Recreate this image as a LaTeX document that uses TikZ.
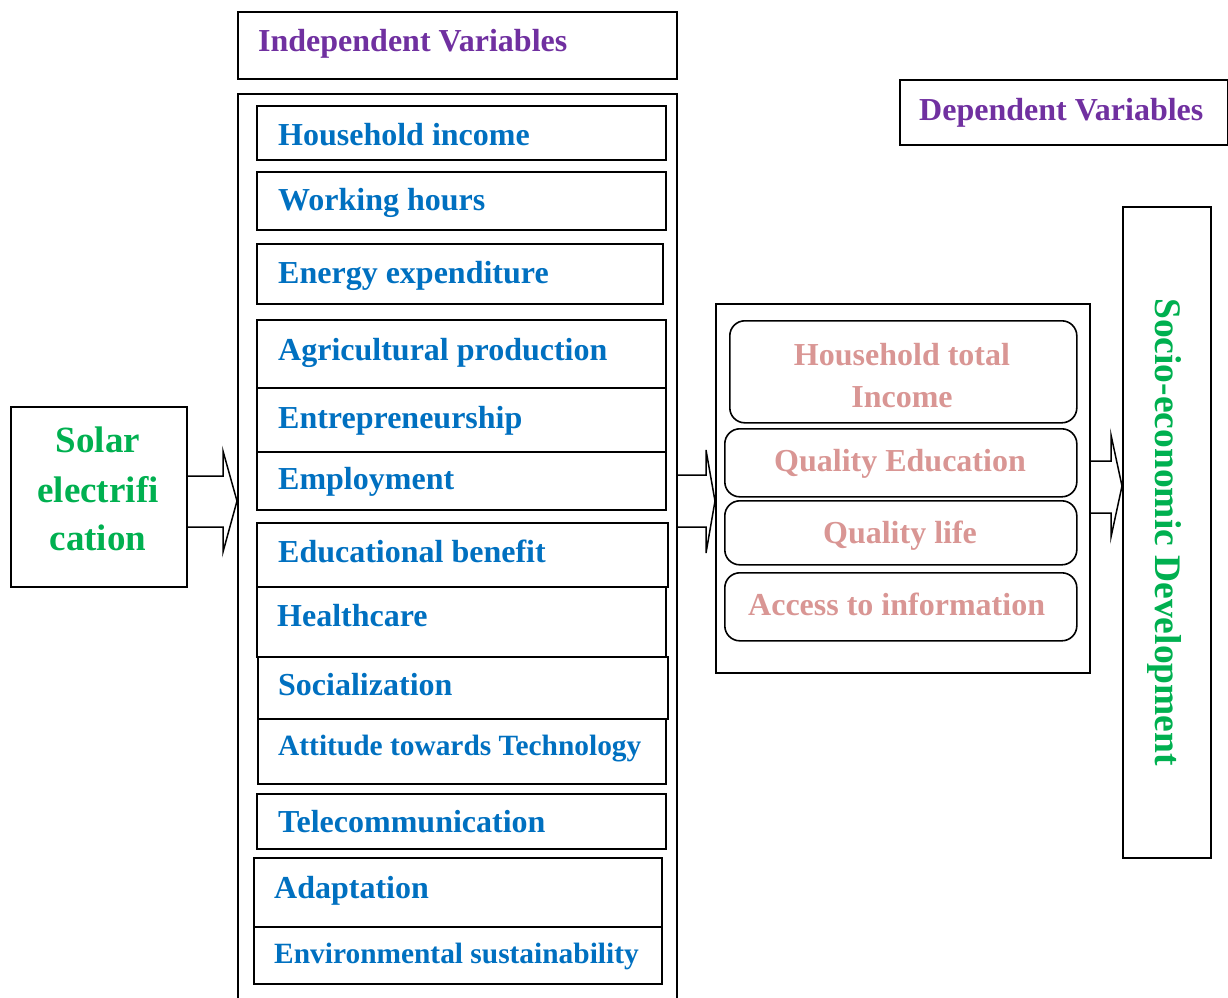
\documentclass[tikz,border=0pt]{standalone}
\usepackage{fontspec}
\setmainfont{Liberation Serif}
\usetikzlibrary{calc}
\definecolor{purp}{HTML}{7030A0}
\definecolor{blu}{HTML}{0070C0}
\definecolor{grn}{HTML}{00B050}
\definecolor{pnk}{HTML}{D99694}
\begin{document}
\begin{tikzpicture}[x=1pt,y=-1pt,
  box/.style={draw, line width=1.6pt, inner sep=0pt, anchor=north west},
  rbox/.style={box, rounded corners=15pt},
  txt/.style={inner sep=0pt, anchor=base west, font=\bfseries\fontsize{32}{38}\selectfont},
  btxt/.style={txt, text=blu},
  sbtxt/.style={btxt, font=\bfseries\fontsize{29.4}{34}\selectfont},
  ptxt/.style={txt, text=purp},
  ktxt/.style={inner sep=0pt, anchor=base, text=pnk, font=\bfseries\fontsize{32}{38}\selectfont},
  gtxt/.style={inner sep=0pt, anchor=base, text=grn, font=\bfseries\fontsize{37}{44}\selectfont},
  barrow/.style={draw, line width=1.5pt, line join=miter}]
\useasboundingbox (0,0) rectangle (1228,997);
% titles
\node[box, minimum width=439pt, minimum height=67pt] (indt) at (237,11) {};
\node[ptxt] (indtt) at (258,51) {Independent Variables};
\node[box, minimum width=328pt, minimum height=65pt] (dept) at (899,79) {};
\node[ptxt] (deptt) at (919,120) {Dependent Variables};
% outer independent box (bottom cut by page)
\node[box, minimum width=439pt, minimum height=915pt] (indep) at (237,93) {};
% independent variable boxes
\node[box, minimum width=409pt, minimum height=54pt] (hi) at (256,105) {};
\node[btxt] (hit) at (278,145) {Household income};
\node[box, minimum width=409pt, minimum height=58pt] (wh) at (256,171) {};
\node[btxt] (wht) at (278,210) {Working hours};
\node[box, minimum width=406pt, minimum height=60pt] (ee) at (256,243) {};
\node[btxt] (eet) at (278,283) {Energy expenditure};
\node[box, minimum width=409pt, minimum height=68pt] (ap) at (256,319) {};
\node[btxt] (apt) at (278,360) {Agricultural production};
\node[box, minimum width=409pt, minimum height=64pt] (en) at (256,387) {};
\node[btxt] (ent) at (278,428) {Entrepreneurship};
\node[box, minimum width=409pt, minimum height=58pt] (em) at (256,451) {};
\node[btxt] (emt) at (278,489) {Employment};
\node[box, minimum width=411pt, minimum height=64pt] (eb) at (256,522) {};
\node[btxt] (ebt) at (278,562) {Educational benefit};
\node[box, minimum width=409pt, minimum height=70pt] (hc) at (256,586) {};
\node[btxt] (hct) at (277,626) {Healthcare};
\node[box, minimum width=410pt, minimum height=62pt] (so) at (257,656) {};
\node[btxt] (sot) at (278,695) {Socialization};
\node[box, minimum width=408pt, minimum height=65pt] (at) at (257,718) {};
\node[sbtxt] (att) at (278,755) {Attitude towards Technology};
\node[box, minimum width=409pt, minimum height=55pt] (tc) at (256,793) {};
\node[btxt] (tct) at (278,832) {Telecommunication};
\node[box, minimum width=408pt, minimum height=69pt] (ad) at (253,857) {};
\node[btxt] (adt) at (274,898) {Adaptation};
\node[box, minimum width=408pt, minimum height=57pt] (es) at (253,926) {};
\node[sbtxt] (est) at (274,963) {Environmental sustainability};
% solar
\node[box, minimum width=176pt, minimum height=180pt] (solar) at (10,406) {};
\node[gtxt] (sol1) at (98,452) {Solar};
\node[gtxt] (sol2) at (98,502) {electrifi};
\node[gtxt] (sol3) at (98,550) {cation};
% dependent
\node[box, minimum width=374pt, minimum height=369pt] (dep) at (715,303) {};
\node[rbox, minimum width=347pt, minimum height=102pt] (hti) at (729,320) {};
\node[ktxt] (hti1) at (902,365) {Household total};
\node[ktxt] (hti2) at (902,407) {Income};
\node[rbox, minimum width=352pt, minimum height=68pt] (qe) at (724,428) {};
\node[ktxt] (qet) at (900,471) {Quality Education};
\node[rbox, minimum width=352pt, minimum height=64pt] (ql) at (724,500) {};
\node[ktxt] (qlt) at (900,543) {Quality life};
\node[rbox, minimum width=352pt, minimum height=68pt] (ai) at (724,572) {};
\node[ktxt, anchor=base west] (ait) at (748,615) {Access to information};
% socio-economic
\node[box, minimum width=88pt, minimum height=651pt] (sed) at (1122,206) {};
\node[rotate=-90, inner sep=0pt, text=grn, font=\bfseries\fontsize{37.5}{40}\selectfont] (sedt) at (1165,532) {Socio-economic Development};
% block arrows
\draw[barrow] (solar.east |- 0,476) -- (223,476) -- (223,451) -- (indep.west |- 0,501) -- (223,552) -- (223,527) -- (solar.east |- 0,527);
\draw[barrow] (indep.east |- 0,475) -- (706,475) -- (706,450) -- (dep.west |- 0,501) -- (706,553) -- (706,527) -- (indep.east |- 0,527);
\draw[barrow] (dep.east |- 0,461) -- (1111,461) -- (1111,435) -- (sed.west |- 0,486) -- (1111,537) -- (1111,513) -- (dep.east |- 0,513);
\end{tikzpicture}
\end{document}
